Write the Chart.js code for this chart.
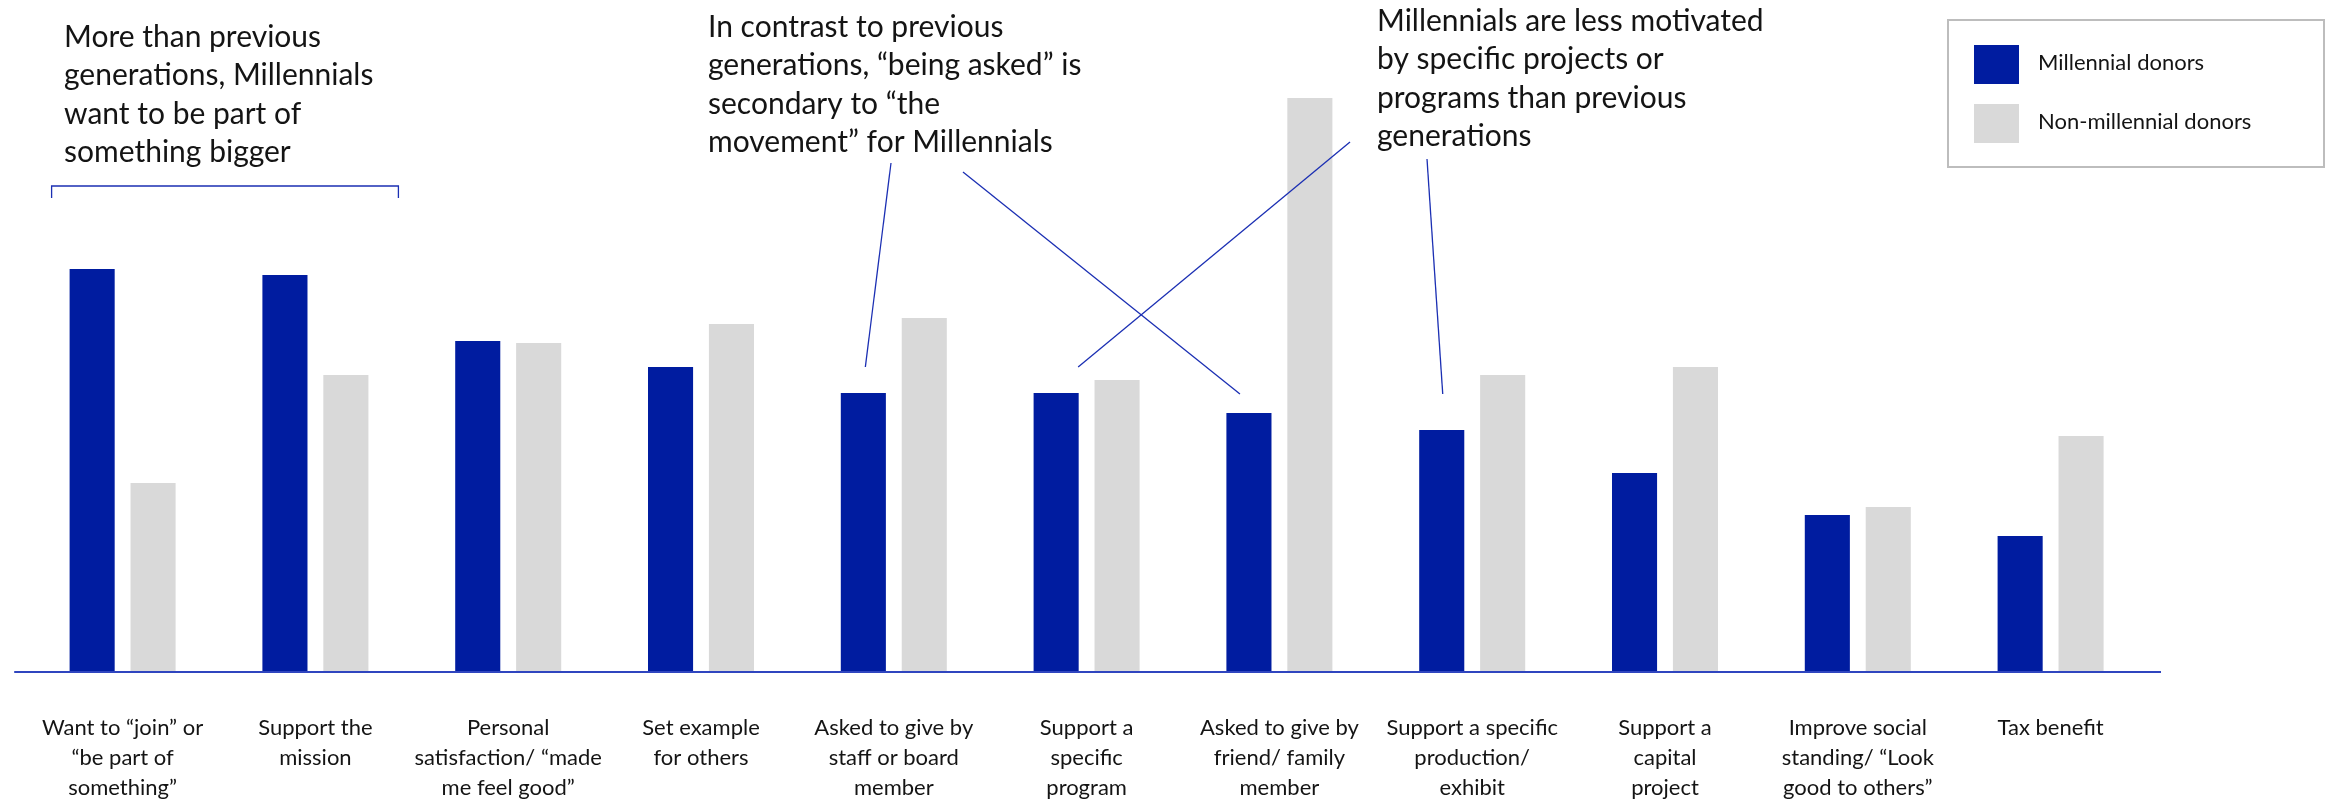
<!DOCTYPE html>
<html>
<head>
<meta charset="utf-8">
<script src="https://cdn.jsdelivr.net/npm/chart.js@4.4.0/dist/chart.umd.min.js"></script>
<style>
    body { margin: 0; background: #fff; }
    #wrap { width: 2331px; height: 801px; position: relative; }
</style>
</head>
<body>
<div id="wrap"><canvas id="motivos"></canvas></div>
<script>
// Datos
const categorias = [
    ['Want to “join” or', '“be part of', 'something”'],
    ['Support the', 'mission'],
    ['Personal', 'satisfaction/ “made', 'me feel good”'],
    ['Set example', 'for others'],
    ['Asked to give by', 'staff or board', 'member'],
    ['Support a', 'specific', 'program'],
    ['Asked to give by', 'friend/ family', 'member'],
    ['Support a specific', 'production/', 'exhibit'],
    ['Support a', 'capital', 'project'],
    ['Improve social', 'standing/ “Look', 'good to others”'],
    ['Tax benefit']
];
const millennials = [40.3, 39.7, 33.1, 30.5, 27.9, 27.9, 25.9, 24.2, 19.9, 15.7, 13.6];
const noMillennials = [18.9, 29.7, 32.9, 34.8, 35.4, 29.2, 57.4, 29.7, 30.5, 16.5, 23.6];
const series = ['Millennial donors', 'Non-millennial donors'];

const AZUL = '#001ca0';
const GRIS = '#d9d9d9';
const LINEA = '#1b2fb3';
const FUENTE = 'Lato, "Open Sans", sans-serif';

// Textos de las notas
const notas = [
    { x: 64, y: 47, lineas: ['More than previous', 'generations, Millennials', 'want to be part of', 'something bigger'] },
    { x: 708, y: 37, lineas: ['In contrast to previous', 'generations, “being asked” is', 'secondary to “the', 'movement” for Millennials'] },
    { x: 1377, y: 31, lineas: ['Millennials are less motivated', 'by specific projects or', 'programs than previous', 'generations'] }
];

// Líneas guía: punto de arranque fijo y extremo sobre la barra azul indicada
const guias = [
    { desde: [891, 163], barra: 4, dx: 2, dy: -26 },
    { desde: [963, 172], barra: 6, dx: -9, dy: -19 },
    { desde: [1350, 142], barra: 5, dx: 22, dy: -26 },
    { desde: [1427, 159], barra: 7, dx: 1, dy: -36 }
];

// Plugin: línea base del eje X
const lineaBase = {
    id: 'lineaBase',
    afterDatasetsDraw(chart) {
        const { ctx, chartArea, scales } = chart;
        const y = scales.y.getPixelForValue(0);
        ctx.save();
        ctx.strokeStyle = '#2f45bf';
        ctx.lineWidth = 2;
        ctx.beginPath();
        ctx.moveTo(chartArea.left - 12, y);
        ctx.lineTo(chartArea.right + 14, y);
        ctx.stroke();
        ctx.restore();
    }
};

// Plugin: notas, llave y líneas guía
const anotaciones = {
    id: 'anotaciones',
    afterDraw(chart) {
        const { ctx } = chart;
        const barrasAzules = chart.getDatasetMeta(0).data;
        const barrasGrises = chart.getDatasetMeta(1).data;
        ctx.save();
        ctx.fillStyle = '#141414';
        ctx.font = '30px ' + FUENTE;
        ctx.textAlign = 'left';
        ctx.textBaseline = 'alphabetic';
        notas.forEach(n => {
            n.lineas.forEach((t, i) => ctx.fillText(t, n.x, n.y + i * 38.3));
        });

        ctx.strokeStyle = LINEA;
        ctx.lineWidth = 1.3;

        // Llave sobre los dos primeros grupos
        const b0 = barrasAzules[0];
        const g1 = barrasGrises[1];
        const izq = b0.x - b0.width / 2 - 18;
        const der = g1.x + g1.width / 2 + 30;
        ctx.beginPath();
        ctx.moveTo(izq, 198);
        ctx.lineTo(izq, 186);
        ctx.lineTo(der, 186);
        ctx.lineTo(der, 198);
        ctx.stroke();

        guias.forEach(g => {
            const b = barrasAzules[g.barra];
            ctx.beginPath();
            ctx.moveTo(g.desde[0], g.desde[1]);
            ctx.lineTo(b.x + g.dx, b.y + g.dy);
            ctx.stroke();
        });
        ctx.restore();
    }
};

// Plugin: leyenda en recuadro
const leyenda = {
    id: 'leyenda',
    afterDraw(chart) {
        const { ctx } = chart;
        ctx.save();
        ctx.strokeStyle = '#bdbdbd';
        ctx.lineWidth = 2;
        ctx.strokeRect(1948, 20, 376, 147);
        ctx.font = '22px ' + FUENTE;
        ctx.textBaseline = 'middle';
        ctx.textAlign = 'left';
        chart.data.datasets.forEach((ds, i) => {
            const y = 45 + i * 59;
            ctx.fillStyle = ds.backgroundColor;
            ctx.fillRect(1974, y, 45, 39);
            ctx.fillStyle = '#141414';
            ctx.fillText(ds.label, 2038, y + 18);
        });
        ctx.restore();
    }
};

const ctx = document.getElementById('motivos').getContext('2d');
const grafico = new Chart(ctx, {
    type: 'bar',
    data: {
        labels: categorias,
        datasets: [
            { label: series[0], data: millennials, backgroundColor: AZUL },
            { label: series[1], data: noMillennials, backgroundColor: GRIS }
        ]
    },
    options: {
        responsive: true,
        maintainAspectRatio: false,
        animation: false,
        categoryPercentage: 0.632,
        barPercentage: 0.74,
        layout: { padding: { left: 22, right: 184, top: 72, bottom: 1 } },
        plugins: {
            legend: { display: false },
            tooltip: { enabled: false }
        },
        scales: {
            x: {
                grid: { display: false, drawTicks: false },
                border: { display: false },
                // altura fija del eje: etiquetas de tres líneas
                afterFit(scale) { scale.height = 128; },
                ticks: {
                    color: '#141414',
                    padding: 41,
                    maxRotation: 0,
                    autoSkip: false,
                    font: { family: FUENTE, size: 22, lineHeight: 1.364 }
                }
            },
            y: {
                display: false,
                min: 0,
                max: 60
            }
        }
    },
    plugins: [lineaBase, anotaciones, leyenda]
});
</script>
</body>
</html>
